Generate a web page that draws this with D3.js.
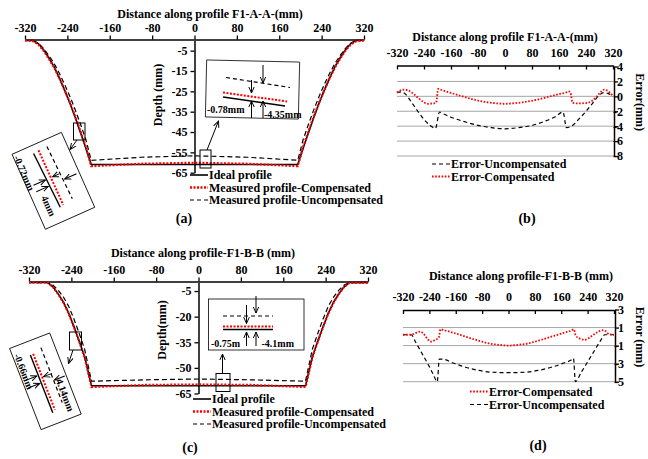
<!DOCTYPE html>
<html>
<head>
<meta charset="utf-8">
<script src="https://cdn.jsdelivr.net/npm/d3@7"></script>
<style>
body { margin: 0; background: #fff; }
svg text { font-family: "Liberation Serif", "Times New Roman", serif; font-weight: bold; fill: #000; }
</style>
</head>
<body>
<script>
// ---- data ----
const ticksX = [-320, -240, -160, -80, 0, 80, 160, 240, 320];
const depthTicksA = [-5, -15, -25, -35, -45, -55, -65];
const depthTicksC = [-5, -20, -35, -50, -65];
const errTicksB = [4, 2, 0, -2, -4, -6, -8];
const errTicksD = [3, 1, -1, -3, -5];

// profile F1-A-A (depth, mm)
const profAX   = [-320,-305,-295,-285,-275,-265,-255,-245,-235,-225,-215,-205,-195,-100,0,100,195,205,215,225,235,245,255,265,275,285,295,305,320];
const idealA   = [0,0,-1.5,-4.5,-8.5,-13,-18.5,-24.5,-31,-38,-45.5,-53,-61,-61,-61,-61,-61,-53,-45.5,-38,-31,-24.5,-18.5,-13,-8.5,-4.5,-1.5,0,0];
const compA    = [0,-0.3,-1.9,-5,-9,-13.3,-18.6,-24.5,-30.6,-37.4,-44.8,-52.4,-61.8,-60.6,-60.1,-60.6,-61.8,-52.4,-44.8,-37.4,-30.6,-24.5,-18.6,-13.3,-9,-5,-1.9,-0.4,0];
const uncompA  = [0,0,-1.3,-3.9,-7.3,-11.3,-16.2,-21.7,-27.6,-34.2,-41.3,-48.8,-58.9,-57.4,-56.7,-57.4,-58.9,-48.8,-41.3,-34.2,-27.6,-21.7,-16.2,-11.3,-7.3,-3.9,-1.3,0,0];

// profile F1-B-B (depth, mm)
const profCX   = [-320,-285,-275,-265,-255,-245,-235,-225,-215,-202,-100,0,100,202,215,225,235,245,255,265,275,285,320];
const idealC   = [0,0,-2.5,-6.5,-11.5,-18,-26,-34.5,-43.5,-60.5,-60.5,-60.5,-60.5,-60.5,-43.5,-34.5,-26,-18,-11.5,-6.5,-2.5,0,0];
const compC    = [0,0,-2.6,-6.8,-11.8,-18.2,-26.2,-34.8,-43.8,-61.2,-60,-59.7,-60,-61.2,-43.8,-34.8,-26.2,-18.2,-11.8,-6.8,-2.6,-0.2,-0.2];
const uncompC  = [0,-0.1,-1.5,-4.5,-8.5,-14,-21.5,-30,-39,-57.8,-57,-56.5,-57,-57.8,-39,-30,-21.5,-14,-8.5,-4.5,-1.5,-0.1,0];

// error F1-A-A (mm)
const bCompX = [-320,-310,-298,-285,-270,-255,-240,-228,-215,-204,-198,-185,-160,-130,-100,-60,-20,0,20,60,100,130,160,180,190,194,200,215,240,258,270,282,294,305,320];
const bComp  = [0.5,0.8,0.9,0.75,0.3,-0.3,-0.8,-1.0,-0.95,-0.85,1.0,0.8,0.45,0.05,-0.35,-0.75,-0.95,-1.0,-0.95,-0.75,-0.4,-0.05,0.3,0.5,0.65,0.5,-0.85,-0.95,-0.9,-0.6,-0.1,0.5,0.9,0.7,0.05];
const bUncX  = [-320,-308,-295,-280,-260,-240,-222,-206,-194,-185,-160,-120,-80,-40,0,40,80,120,150,172,182,200,220,240,260,280,292,305,320];
const bUnc   = [0.5,0.6,0.3,-0.6,-1.9,-3.1,-3.9,-4.3,-2.1,-2.3,-2.8,-3.4,-3.9,-4.2,-4.35,-4.2,-3.9,-3.3,-2.7,-2.1,-4.2,-3.9,-3.0,-2.0,-0.9,0.2,0.5,0.4,0.0];

// error F1-B-B (mm)
const dCompX = [-320,-295,-282,-268,-255,-245,-234,-222,-212,-206,-195,-170,-140,-100,-60,-20,0,20,60,100,140,170,190,198,204,215,232,250,268,285,295,305,320];
const dComp  = [0.2,0.2,0.4,0.55,0.2,-0.3,-0.55,-0.35,-0.15,0.8,0.7,0.45,0.1,-0.35,-0.75,-0.95,-1.0,-0.95,-0.75,-0.35,0.1,0.45,0.65,0.8,0.1,-0.2,-0.35,0.0,0.45,0.7,0.6,0.25,0.2];
const dUncX  = [-320,-295,-282,-265,-245,-228,-216,-210,-200,-170,-130,-90,-50,0,50,90,130,170,190,197,203,220,240,260,280,292,320];
const dUnc   = [0.2,0.2,-0.6,-1.7,-3.0,-4.2,-5.0,-2.5,-2.5,-2.9,-3.4,-3.75,-3.95,-4.0,-3.95,-3.75,-3.4,-2.9,-2.6,-2.4,-5.0,-4.0,-2.8,-1.6,-0.4,0.2,0.2];

// ---- drawing ----
const svg = d3.select("body").append("svg")
    .attr("width", 648)
    .attr("height", 459);

svg.append("defs").append("marker")
    .attr("id", "arr")
    .attr("viewBox", "0 0 10 10")
    .attr("refX", 9).attr("refY", 5)
    .attr("markerWidth", 7).attr("markerHeight", 7)
    .attr("orient", "auto")
    .append("path")
    .attr("d", "M0,1 L9,5 L0,9")
    .attr("fill", "none")
    .attr("stroke", "#000")
    .attr("stroke-width", 1.4);

const RED = "#ff0000";

function styleAxis(g, size) {
    g.attr("font-family", null).attr("font-size", size || 12);
    g.selectAll("path.domain").attr("stroke", "#000").attr("stroke-width", 1.5);
    g.selectAll(".tick line").attr("stroke", "#000").attr("stroke-width", 1.3);
}

function label(g, txt, x, y, size, anchor) {
    return g.append("text").attr("x", x).attr("y", y)
        .attr("font-size", size || 12)
        .attr("text-anchor", anchor || "middle")
        .text(txt);
}

function arrow(g, x1, y1, x2, y2) {
    g.append("line").attr("x1", x1).attr("y1", y1).attr("x2", x2).attr("y2", y2)
        .attr("stroke", "#000").attr("stroke-width", 1).attr("marker-end", "url(#arr)");
}

function seg(g, x1, y1, x2, y2, kind) {
    const l = g.append("line").attr("x1", x1).attr("y1", y1).attr("x2", x2).attr("y2", y2);
    if (kind === "red") l.attr("stroke", RED).attr("stroke-width", 2).attr("stroke-dasharray", "2,1.5");
    else if (kind === "dash") l.attr("stroke", "#000").attr("stroke-width", 1.2).attr("stroke-dasharray", "4,3");
    else l.attr("stroke", "#000").attr("stroke-width", 1.4);
    return l;
}

function profilePanel(c) {
    const x = d3.scaleLinear().domain([-320, 320]).range(c.xr);
    const y = d3.scaleLinear().domain([0, -65]).range(c.yr);
    const g = svg.append("g");

    g.append("g")
        .attr("transform", `translate(0,${c.axisY})`)
        .call(d3.axisTop(x).tickValues(ticksX).tickSize(4).tickSizeOuter(0).tickPadding(4).tickFormat(d => String(d)))
        .call(s => styleAxis(s));
    g.append("g")
        .attr("transform", `translate(${x(0)},0)`)
        .call(d3.axisLeft(y).tickValues(c.depthTicks).tickSize(4).tickSizeOuter(0).tickPadding(3).tickFormat(d => String(d)))
        .call(s => styleAxis(s));

    label(g, c.title, c.titleX, c.titleY);
    label(g, c.ylab, 0, 0).attr("transform", `translate(${c.ylabX},${c.ylabY}) rotate(-90)`);

    const line = (xs, ys) => d3.line().x((d, i) => x(xs[i])).y(d => y(d))(ys);
    g.append("path").attr("d", line(c.xs, c.unc)).attr("fill", "none")
        .attr("stroke", "#000").attr("stroke-width", 1.2).attr("stroke-dasharray", "5,3");
    g.append("path").attr("d", line(c.xs, c.ideal)).attr("fill", "none")
        .attr("stroke", "#000").attr("stroke-width", 1.6);
    g.append("path").attr("d", line(c.xs, c.comp)).attr("fill", "none")
        .attr("stroke", RED).attr("stroke-width", 2.2).attr("stroke-dasharray", "2,1.6");

    // legend
    const lx = c.legX;
    seg(g, lx, c.legY[0], lx + 18, c.legY[0], "solid").attr("stroke-width", 1.6);
    seg(g, lx, c.legY[1], lx + 18, c.legY[1], "red").attr("stroke-width", 2.4);
    seg(g, lx, c.legY[2], lx + 18, c.legY[2], "dash");
    const names = ["Ideal profile", "Measured profile-Compensated", "Measured profile-Uncompensated"];
    names.forEach((n, i) => label(g, n, lx + 19, c.legY[i] + 4, 12, "start"));

    label(g, c.tag, c.tagX, c.tagY, 14);
    return g;
}

function errorPanel(c) {
    const x = d3.scaleLinear().domain([-320, 320]).range(c.xr);
    const y = d3.scaleLinear().domain(c.yd).range(c.yr);
    const g = svg.append("g");

    // grid
    g.selectAll("line.grid").data(c.yticks.slice(1)).enter().append("line")
        .attr("x1", c.xr[0]).attr("x2", c.axisX)
        .attr("y1", d => y(d)).attr("y2", d => y(d))
        .attr("stroke", "#a6a6a6").attr("stroke-width", 1);

    g.append("g")
        .attr("transform", `translate(0,${c.axisY})`)
        .call(d3.axisTop(x).tickValues(ticksX).tickSize(-4).tickSizeOuter(0).tickPadding(9).tickFormat(d => String(d)))
        .call(s => styleAxis(s));
    g.append("g")
        .attr("transform", `translate(${c.axisX},0)`)
        .call(d3.axisRight(y).tickValues(c.yticks).tickSize(4).tickSizeOuter(0).tickPadding(-2).tickFormat(d => String(d)))
        .call(s => styleAxis(s))
        .selectAll("text").attr("text-anchor", "end").attr("x", 9);

    label(g, c.title, c.titleX, c.titleY);
    label(g, c.ylab, 0, 0).attr("transform", `translate(${c.ylabX},${c.ylabY}) rotate(90)`);

    const line = (xs, ys) => d3.line().curve(d3.curveMonotoneX).x((d, i) => x(xs[i])).y(d => y(d))(ys);
    g.append("path").attr("d", line(c.uncX, c.unc)).attr("fill", "none")
        .attr("stroke", "#000").attr("stroke-width", 1.2).attr("stroke-dasharray", "4,3");
    g.append("path").attr("d", line(c.compX, c.comp)).attr("fill", "none")
        .attr("stroke", RED).attr("stroke-width", 1.8).attr("stroke-dasharray", "1.6,1.6");

    c.legend.forEach((e, i) => {
        const ly = c.legY[i];
        if (e.kind === "red") seg(g, c.legX, ly, c.legX + 18, ly, "red").attr("stroke-width", 1.8).attr("stroke-dasharray", "1.6,1.6");
        else seg(g, c.legX, ly, c.legX + 18, ly, "dash");
        label(g, e.name, c.legX + 19, ly + 4, 12, "start");
    });

    label(g, c.tag, c.tagX, c.tagY, 14);
}

// ---- panel (a) ----
const gA = profilePanel({
    xr: [25, 364], yr: [40.5, 172.7], axisY: 39.5,
    depthTicks: depthTicksA,
    title: "Distance along profile F1-A-A-(mm)", titleX: 210, titleY: 18,
    ylab: "Depth (mm)", ylabX: 162, ylabY: 95,
    xs: profAX, ideal: idealA, comp: compA, unc: uncompA,
    legX: 190, legY: [175, 187.5, 200],
    tag: "(a)", tagX: 184, tagY: 223
});

// annotations (a)
(function () {
    const g = gA.append("g");
    g.append("rect").attr("x", 206).attr("y", 61).attr("width", 93).attr("height", 57)
        .attr("fill", "#fff").attr("stroke", "#000").attr("stroke-width", 0.8)
        .attr("transform", "rotate(1.3,252,90)");
    seg(g, 226, 77.5, 290, 87.5, "dash");
    seg(g, 223, 97, 285, 106, "solid");
    seg(g, 223, 92.5, 287, 101.5, "red");
    arrow(g, 263, 65, 263, 83);
    arrow(g, 251.5, 80, 251.5, 93);
    arrow(g, 251.5, 118, 251.5, 101);
    arrow(g, 263, 118, 263, 101);
    label(g, "-0.78mm", 207, 113, 10, "start");
    label(g, "-4.35mm", 264, 118, 10, "start");
    // small boxes and pointers
    g.append("rect").attr("x", 200).attr("y", 150).attr("width", 11).attr("height", 18)
        .attr("fill", "none").attr("stroke", "#000").attr("stroke-width", 1);
    arrow(g, 207, 150, 218.5, 121);
    g.append("rect").attr("x", 73.5).attr("y", 123).attr("width", 11.5).attr("height", 17)
        .attr("fill", "none").attr("stroke", "#000").attr("stroke-width", 1);
    arrow(g, 77, 140, 70, 149.5);
    // rotated close-up
    const r = g.append("g").attr("transform", "translate(53.4,180.8) rotate(66)");
    r.append("rect").attr("x", -41).attr("y", -27).attr("width", 82).attr("height", 54)
        .attr("fill", "#fff").attr("stroke", "#000").attr("stroke-width", 0.8);
    seg(r, -34, -8, 24, -10, "dash");
    seg(r, -34, 1.2, 26, 0.8, "red");
    seg(r, -33, 7, 27, 4.5, "solid");
    arrow(r, 3, -24, 3, -11);
    arrow(r, -4, -8, -4, -1);
    arrow(r, -4, 20, -4, 7);
    arrow(r, 3, 20, 3, 7);
    label(r, "-0.72mm", -19, 27, 10);
    label(r, "4mm", 21, 18, 10);
})();

// ---- panel (c) ----
const gC = profilePanel({
    xr: [29, 368], yr: [282.5, 393.5], axisY: 281.5,
    depthTicks: depthTicksC,
    title: "Distance along profile-F1-B-B (mm)", titleX: 203, titleY: 257,
    ylab: "Depth(mm)", ylabX: 166, ylabY: 330,
    xs: profCX, ideal: idealC, comp: compC, unc: uncompC,
    legX: 193, legY: [399, 411.5, 424],
    tag: "(c)", tagX: 190, tagY: 452
});

// annotations (c)
(function () {
    const g = gC.append("g");
    g.append("rect").attr("x", 208.5).attr("y", 299).attr("width", 95.5).attr("height", 51)
        .attr("fill", "#fff").attr("stroke", "#000").attr("stroke-width", 0.8);
    seg(g, 223, 316, 273, 316, "dash");
    seg(g, 223, 326.5, 273, 326.5, "red");
    seg(g, 223, 329.5, 273, 329.5, "solid");
    arrow(g, 256, 296, 256, 313);
    arrow(g, 246.5, 305, 246.5, 323.5);
    arrow(g, 246.5, 346, 246.5, 332);
    arrow(g, 256, 346, 256, 332);
    label(g, "-0.75m", 211, 347, 10, "start");
    label(g, "-4.1mm", 261.5, 347, 10, "start");
    g.append("rect").attr("x", 216).attr("y", 373.5).attr("width", 14).attr("height", 18)
        .attr("fill", "none").attr("stroke", "#000").attr("stroke-width", 1);
    arrow(g, 222.5, 373.5, 222.5, 354);
    g.append("rect").attr("x", 69.5).attr("y", 332).attr("width", 12).attr("height", 18)
        .attr("fill", "none").attr("stroke", "#000").attr("stroke-width", 1);
    arrow(g, 73, 350, 68.5, 363.5);
    const r = g.append("g").attr("transform", "translate(45.4,381.3) rotate(68.8)");
    r.append("rect").attr("x", -43.5).attr("y", -21.5).attr("width", 87).attr("height", 43)
        .attr("fill", "#fff").attr("stroke", "#000").attr("stroke-width", 0.8);
    seg(r, -33, -8, 26, -8, "dash");
    seg(r, -30, 1.5, 30, 1.5, "red");
    seg(r, -30, 4.5, 32, 4.5, "solid");
    arrow(r, 2, -20, 2, -9);
    arrow(r, -5, -9, -5, 0);
    arrow(r, -8, 18, -8, 6);
    arrow(r, 0, 18, 0, 6);
    label(r, "-0.66mm", -17, 20, 10);
    label(r, "4.14mm", 20, -10, 10);
})();

// ---- panel (b) ----
errorPanel({
    xr: [397, 613], yd: [4, -8], yr: [66.5, 156], axisY: 65.5, axisX: 614,
    yticks: errTicksB,
    title: "Distance along profile F1-A-A-(mm)", titleX: 505, titleY: 41,
    ylab: "Error(mm)", ylabX: 636, ylabY: 102,
    compX: bCompX, comp: bComp, uncX: bUncX, unc: bUnc,
    legX: 432,
    legend: [{ kind: "dash", name: "Error-Uncompensated" }, { kind: "red", name: "Error-Compensated" }],
    legY: [164, 176.5],
    tag: "(b)", tagX: 527, tagY: 223
});

// ---- panel (d) ----
errorPanel({
    xr: [403, 614], yd: [3, -5], yr: [309.5, 381.7], axisY: 310, axisX: 615,
    yticks: errTicksD,
    title: "Distance along profile-F1-B-B (mm)", titleX: 521, titleY: 280,
    ylab: "Error (mm)", ylabX: 636, ylabY: 337,
    compX: dCompX, comp: dComp, uncX: dUncX, unc: dUnc,
    legX: 470,
    legend: [{ kind: "red", name: "Error-Compensated" }, { kind: "dash", name: "Error-Uncompensated" }],
    legY: [391.5, 404.5],
    tag: "(d)", tagX: 538, tagY: 450
});
</script>
</body>
</html>
